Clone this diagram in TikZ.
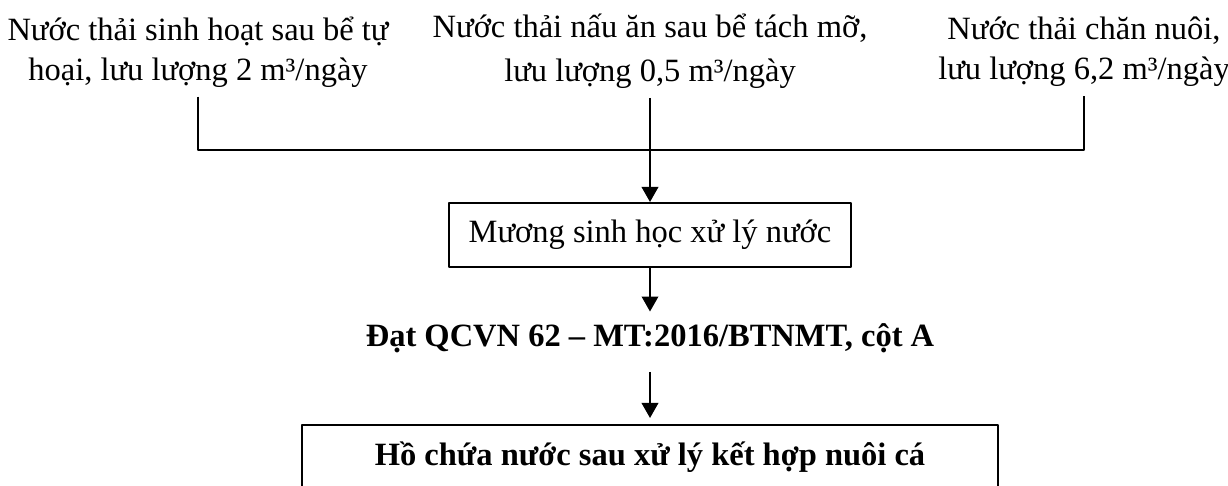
\documentclass[tikz,border=0pt]{standalone}
\usepackage{fontspec}
\setmainfont{Liberation Serif}
\usetikzlibrary{arrows.meta}

\begin{document}
\begin{tikzpicture}[x=0.4pt,y=-0.4pt,>={Triangle[length=6pt,width=6.6pt]},line join=bevel,
  every node/.style={font=\fontsize{13}{16}\selectfont},
  src/.style={align=center},
  stage/.style={draw,line width=0.8pt,minimum height=25.6pt},
  res/.style={font=\fontsize{13}{16}\selectfont\bfseries}]
  \pgfsetlinewidth{0.8pt}
  \useasboundingbox (0,0) rectangle (1228,486);
%%
  % Node: src_1
  \node[src] (src1) at (198,52) {Nước thải sinh hoạt sau bể tự\\hoại, lưu lượng 2 m³/ngày};
  % Node: src_2
  \node[src] (src2) at (650,51) {Nước thải nấu ăn sau bể tách mỡ,\\[1.8pt]lưu lượng 0,5 m³/ngày};
  % Node: src_3
  \node[src] (src3) at (1084,52) {Nước thải chăn nuôi,\\lưu lượng 6,2 m³/ngày};
  % Node: ditch
  \node[stage,minimum width=160.8pt] (ditch) at (650,235) {Mương sinh học xử lý nước};
  % Node: std
  \node[res] (std) at (650,338) {Đạt QCVN 62 – MT:2016/BTNMT, cột A};
  % Node: pond
  \node[stage,res,minimum width=278pt] (pond) at (650,457) {Hồ chứa nước sau xử lý kết hợp nuôi cá};
%%
  \coordinate (join) at (650,150);
  % Edge: src_1 -> src_3
  \draw (src1.south) |- (join) -| (src3.south);
  % Edge: src_2 -> ditch
  \draw [->] (src2.south) -- (ditch.north);
  % Edge: ditch -> std
  \draw [->,shorten >=1pt] (ditch.south) -- (std.north);
  % Edge: std -> pond
  \draw [->,shorten <=4pt,shorten >=2.4pt] (std.south) -- (pond.north);
%
\end{tikzpicture}
\end{document}
